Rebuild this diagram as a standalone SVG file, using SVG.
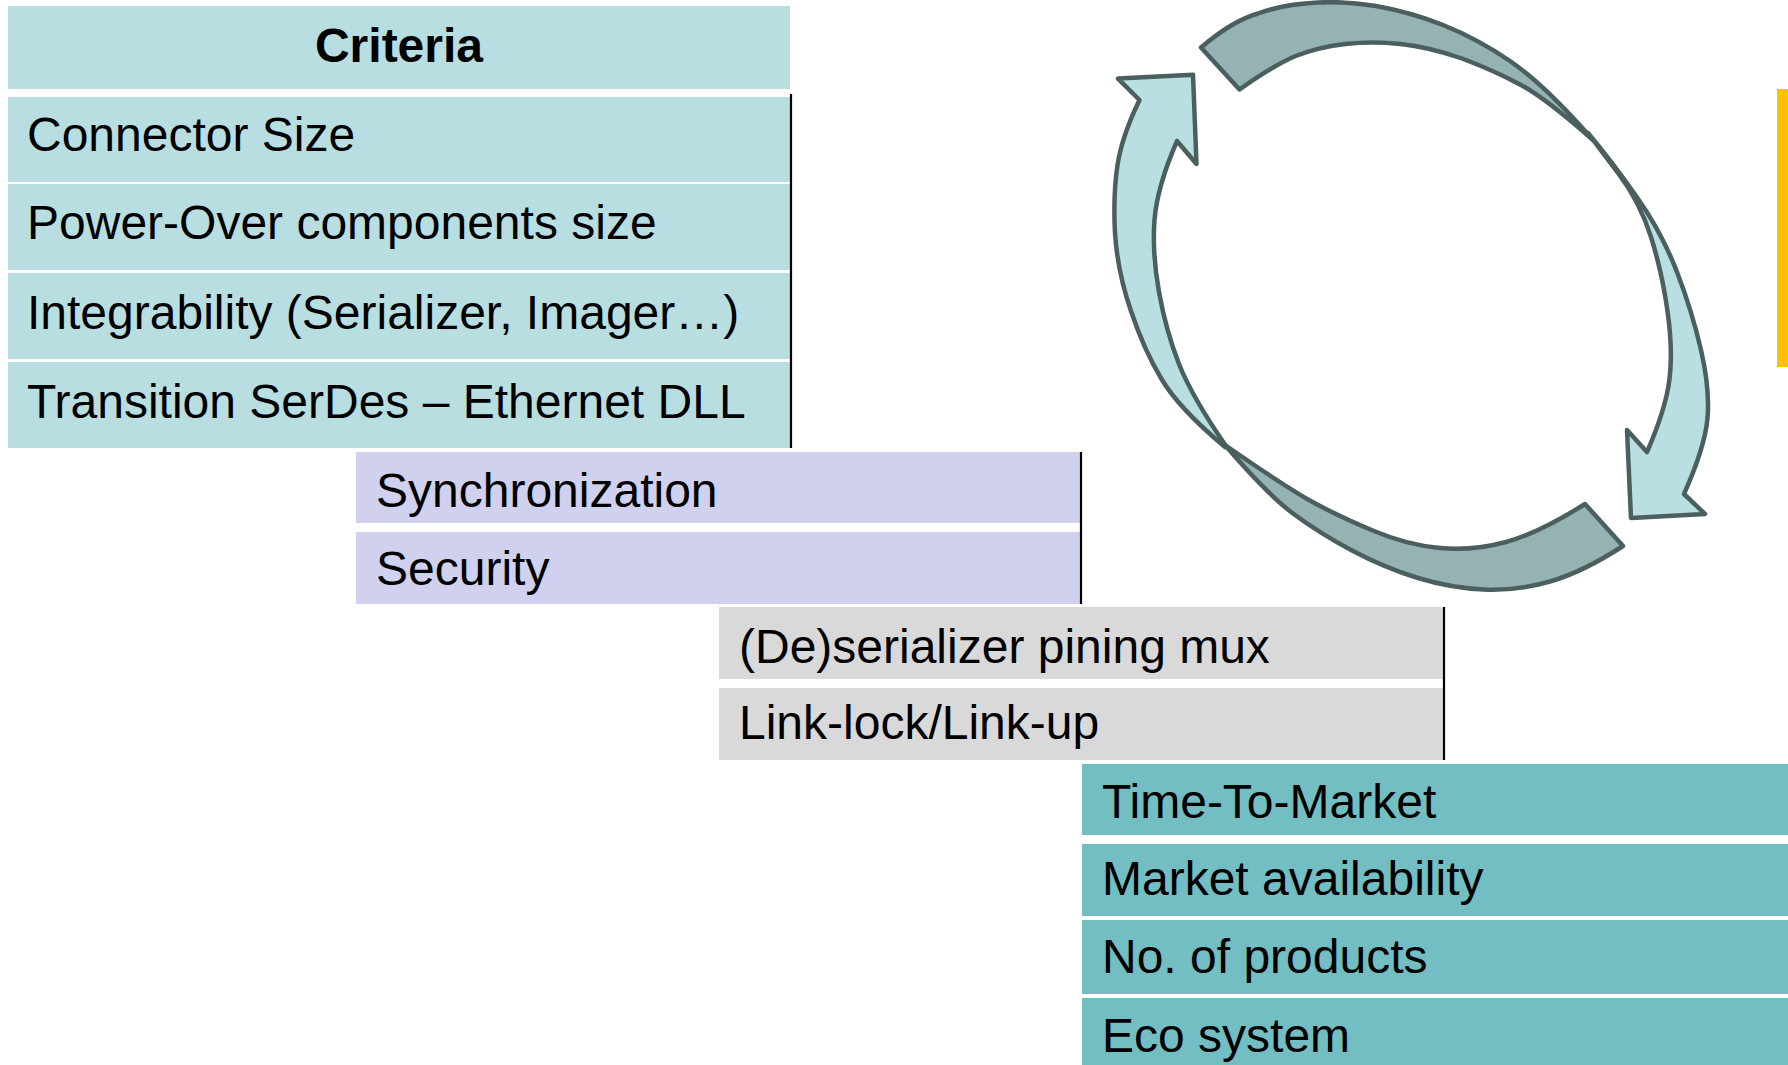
<svg xmlns="http://www.w3.org/2000/svg" width="1788" height="1065" viewBox="0 0 1788 1065">
<style>
.t{font-family:"Liberation Sans",Arial,sans-serif;font-size:48px;fill:#000}
.h{font-weight:bold;text-anchor:middle}
.c1{fill:#B9DEE2}
.c2{fill:#D0D1EF}
.c3{fill:#D9D9D9}
.c4{fill:#72BEC3}
.edge{stroke:#000;stroke-width:2.2;fill:none}
.la{fill:#B9DFE2;stroke:#4B5F5F;stroke-width:4.5;stroke-linejoin:round}
.da{fill:#96B3B4;stroke:#4B5F5F;stroke-width:4.5;stroke-linejoin:round}
</style>
<rect width="1788" height="1065" fill="#fff"/>
<g id="criteria-header"><rect class="c1" x="8" y="6" width="782" height="83"/><text class="t h" x="399" y="62">Criteria</text></g>
<g id="connector-size"><rect class="c1" x="8" y="97" width="782" height="85"/><text class="t" x="27" y="151">Connector Size</text></g>
<g id="power-over"><rect class="c1" x="8" y="184" width="782" height="86"/><text class="t" x="27" y="239">Power-Over components size</text></g>
<g id="integrability"><rect class="c1" x="8" y="273" width="782" height="86"/><text class="t" x="27" y="329">Integrability (Serializer, Imager…)</text></g>
<g id="transition"><rect class="c1" x="8" y="362" width="782" height="86"/><text class="t" x="27" y="418">Transition SerDes – Ethernet DLL</text></g>
<line class="edge" x1="791" y1="94" x2="791" y2="448"/>
<g id="synchronization"><rect class="c2" x="356" y="452" width="724" height="71"/><text class="t" x="376" y="507">Synchronization</text></g>
<g id="security"><rect class="c2" x="356" y="532" width="724" height="72"/><text class="t" x="376" y="585">Security</text></g>
<line class="edge" x1="1081" y1="452" x2="1081" y2="604"/>
<g id="pining-mux"><rect class="c3" x="719" y="607" width="724" height="72"/><text class="t" x="739" y="663">(De)serializer pining mux</text></g>
<g id="link-lock"><rect class="c3" x="719" y="688" width="724" height="72"/><text class="t" x="739" y="739">Link-lock/Link-up</text></g>
<line class="edge" x1="1444" y1="607" x2="1444" y2="760"/>
<g id="time-to-market"><rect class="c4" x="1082" y="764" width="706" height="71"/><text class="t" x="1102" y="818">Time-To-Market</text></g>
<g id="market-availability"><rect class="c4" x="1082" y="844" width="706" height="72"/><text class="t" x="1102" y="895">Market availability</text></g>
<g id="no-of-products"><rect class="c4" x="1082" y="920" width="706" height="74"/><text class="t" x="1102" y="973">No. of products</text></g>
<g id="eco-system"><rect class="c4" x="1082" y="998" width="706" height="67"/><text class="t" x="1102" y="1052">Eco system</text></g>
<rect id="accent-bar" x="1777" y="89" width="11" height="278" fill="#FFC000"/>
<g id="connectors">
<path class="da" d="M1201,47.5 Q1232,21 1258,13.5 Q1284,4 1318,2.5 Q1345,1 1376,6 Q1410,12 1443,25 Q1478,39 1510,61 Q1545,85 1593,140 Q1543,96 1519,84 Q1495,71 1462,58.5 Q1429,47 1400.5,44 Q1372,41 1345.5,44 Q1319,47 1297,55.5 Q1275.5,64 1239.5,89.5 Z"/>
<path class="da" d="M1585,504 L1623,546 Q1583,572 1550,581.5 Q1517,591 1484,589.5 Q1451,588 1418,578 Q1385,568 1352,550.5 Q1319,533 1293,513.5 Q1267,494 1225,445 Q1284,486 1312.5,502 Q1341,517.5 1374,531 Q1407,545 1440,548 Q1473,551 1506,542 Q1539,533 1585,504 Z"/>
<path class="la" d="M1588,133 Q1613,163 1637.5,198 Q1662,233 1677,272 Q1692,311 1701,350 Q1710,389 1707.5,418 Q1705,447 1684,494 L1705,514 L1631,518 L1627,430 L1647,452 Q1666,408.5 1669.5,379 Q1673,350 1667.5,311 Q1662,272 1651,237 Q1640,202 1618,173 Q1596,144 1588,133 Z"/>
<path class="la" d="M1225,447 Q1179,408.5 1161.5,379 Q1144,350 1131,311 Q1117.5,272 1115,233 Q1113,194.5 1117.5,165 Q1122,136 1139.5,100 L1118,78.6 L1193,74.7 L1196.5,164 L1177,141 Q1157,187 1154.5,220 Q1152,253 1159,292 Q1166,331 1179,364 Q1192,397 1227,447.5 Z"/>
</g>
</svg>
